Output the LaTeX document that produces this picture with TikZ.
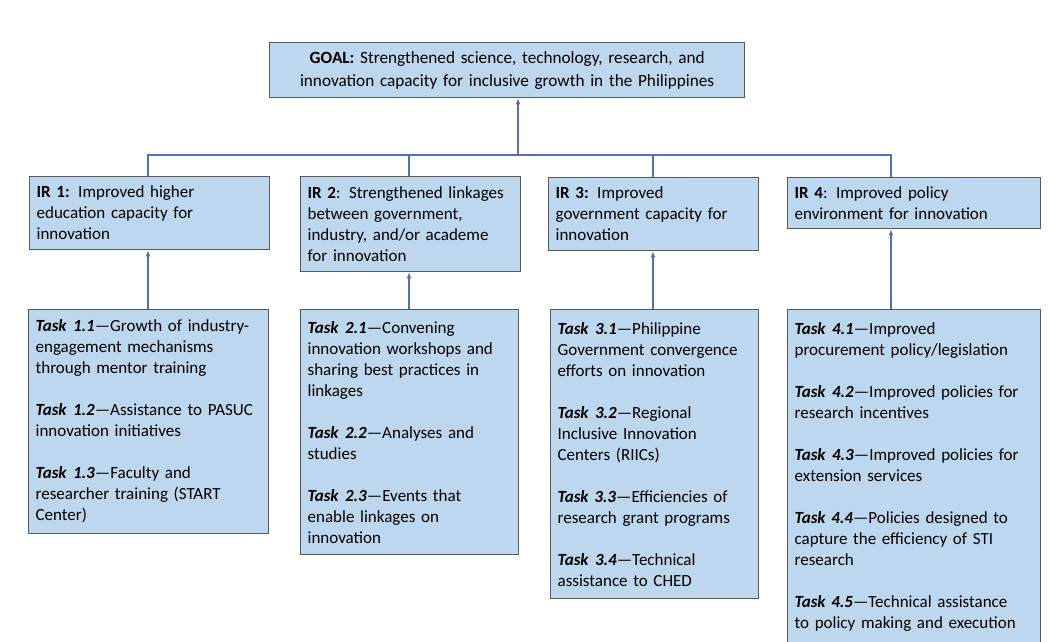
\documentclass[tikz,border=0pt]{standalone}
\usepackage{fontspec}
\setmainfont{Carlito}
\usetikzlibrary{arrows.meta}
\definecolor{boxfill}{HTML}{BDD7EE}
\definecolor{boxline}{HTML}{595959}
\definecolor{conn}{HTML}{4F72B8}
\newcommand\tasklbl[1]{\textbf{\textit{Task\hspace{0.38em}#1}}—}
\newcommand\tasklbs[1]{\textbf{\textit{Task #1}}—}
\newcommand\nohyph{\hyphenpenalty=10000\relax\exhyphenpenalty=10000\relax}
\begin{document}
\begin{tikzpicture}[x=1pt,y=-1pt,
  box/.style={draw=boxline, line width=1.3pt, fill=boxfill, anchor=north west,
    align=left, inner xsep=7pt, inner ysep=3pt,
    font=\fontsize{17}{21}\selectfont\nohyph},
  link/.style={draw=conn, line width=1.2pt},
  arr/.style={draw=conn, line width=1.5pt, -{Latex[length=6pt,width=5pt]}}]
\useasboundingbox (0,0) rectangle (1057,641);
\fill[white] (0,0) rectangle (1057,641);

\node[box, align=center, minimum width=475pt, minimum height=55pt, text width=461pt,
  font=\fontsize{17.2}{23}\selectfont] (goal) at (269,42)
  {\textbf{GOAL:} Strengthened science, technology, research, and\\innovation capacity for inclusive growth in the Philippines};

\node[box, minimum width=240pt, minimum height=73pt, text width=226pt] (ir1) at (29,176)
  {\textbf{IR 1:} Improved higher\\education capacity for\\innovation};
\node[box, minimum width=220pt, minimum height=95pt, text width=206pt] (ir2) at (300,176)
  {\textbf{IR 2}: Strengthened linkages\\between government,\\industry, and/or academe\\for innovation};
\node[box, minimum width=210pt, minimum height=73pt, text width=196pt] (ir3) at (548,177)
  {\textbf{IR 3:} Improved\\government capacity for\\innovation};
\node[box, minimum width=253pt, minimum height=51pt, text width=239pt] (ir4) at (787,177)
  {\textbf{IR 4}: Improved policy\\environment for innovation};

\node[box, minimum width=240pt, minimum height=224pt, text width=226pt] (t1) at (28,309)
  {\tasklbl{1.1}Growth of industry-\\engagement mechanisms\\through mentor training\\[21pt]
   \tasklbl{1.2}Assistance to PASUC\\innovation initiatives\\[21pt]
   \tasklbl{1.3}Faculty and\\researcher training (START\\Center)};
\node[box, minimum width=218pt, minimum height=245pt, text width=204pt] (t2) at (300,309)
  {\tasklbl{2.1}Convening\\innovation workshops and\\sharing best practices in\\linkages\\[21pt]
   \tasklbl{2.2}Analyses and\\studies\\[21pt]
   \tasklbl{2.3}Events that\\enable linkages on\\innovation};
\node[box, minimum width=208pt, minimum height=289pt, text width=194pt] (t3) at (550,309)
  {\tasklbl{3.1}Philippine\\Government convergence\\efforts on innovation\\[21pt]
   \tasklbl{3.2}Regional\\Inclusive Innovation\\Centers (RIICs)\\[21pt]
   \tasklbs{3.3}Efficiencies of\\research grant programs\\[21pt]
   \tasklbl{3.4}Technical\\assistance to CHED};
\node[box, minimum width=253pt, minimum height=335pt, text width=239pt] (t4) at (787,309)
  {\tasklbl{4.1}Improved\\procurement policy/legislation\\[21pt]
   \tasklbl{4.2}Improved policies for\\research incentives\\[21pt]
   \tasklbl{4.3}Improved policies for\\extension services\\[21pt]
   \tasklbs{4.4}Policies designed to\\capture the efficiency of STI\\research\\[21pt]
   \tasklbs{4.5}Technical assistance\\to policy making and execution};

\coordinate (b1) at (148,155);
\coordinate (b2) at (409,155);
\coordinate (b3) at (653,155);
\coordinate (b4) at (891,155);
\coordinate (bg) at (518,155);
\draw[link] (ir1.north -| b1) -- (b1) -- (b4) -- (ir4.north -| b4);
\draw[link] (ir2.north -| b2) -- (b2);
\draw[link] (ir3.north -| b3) -- (b3);
\draw[arr] (bg) -- (goal.south -| bg);
\draw[arr] (t1.north -| b1) -- (ir1.south -| b1);
\draw[arr] (t2.north -| b2) -- (ir2.south -| b2);
\draw[arr] (t3.north -| b3) -- (ir3.south -| b3);
\draw[arr] (t4.north -| b4) -- (ir4.south -| b4);
\end{tikzpicture}
\end{document}
